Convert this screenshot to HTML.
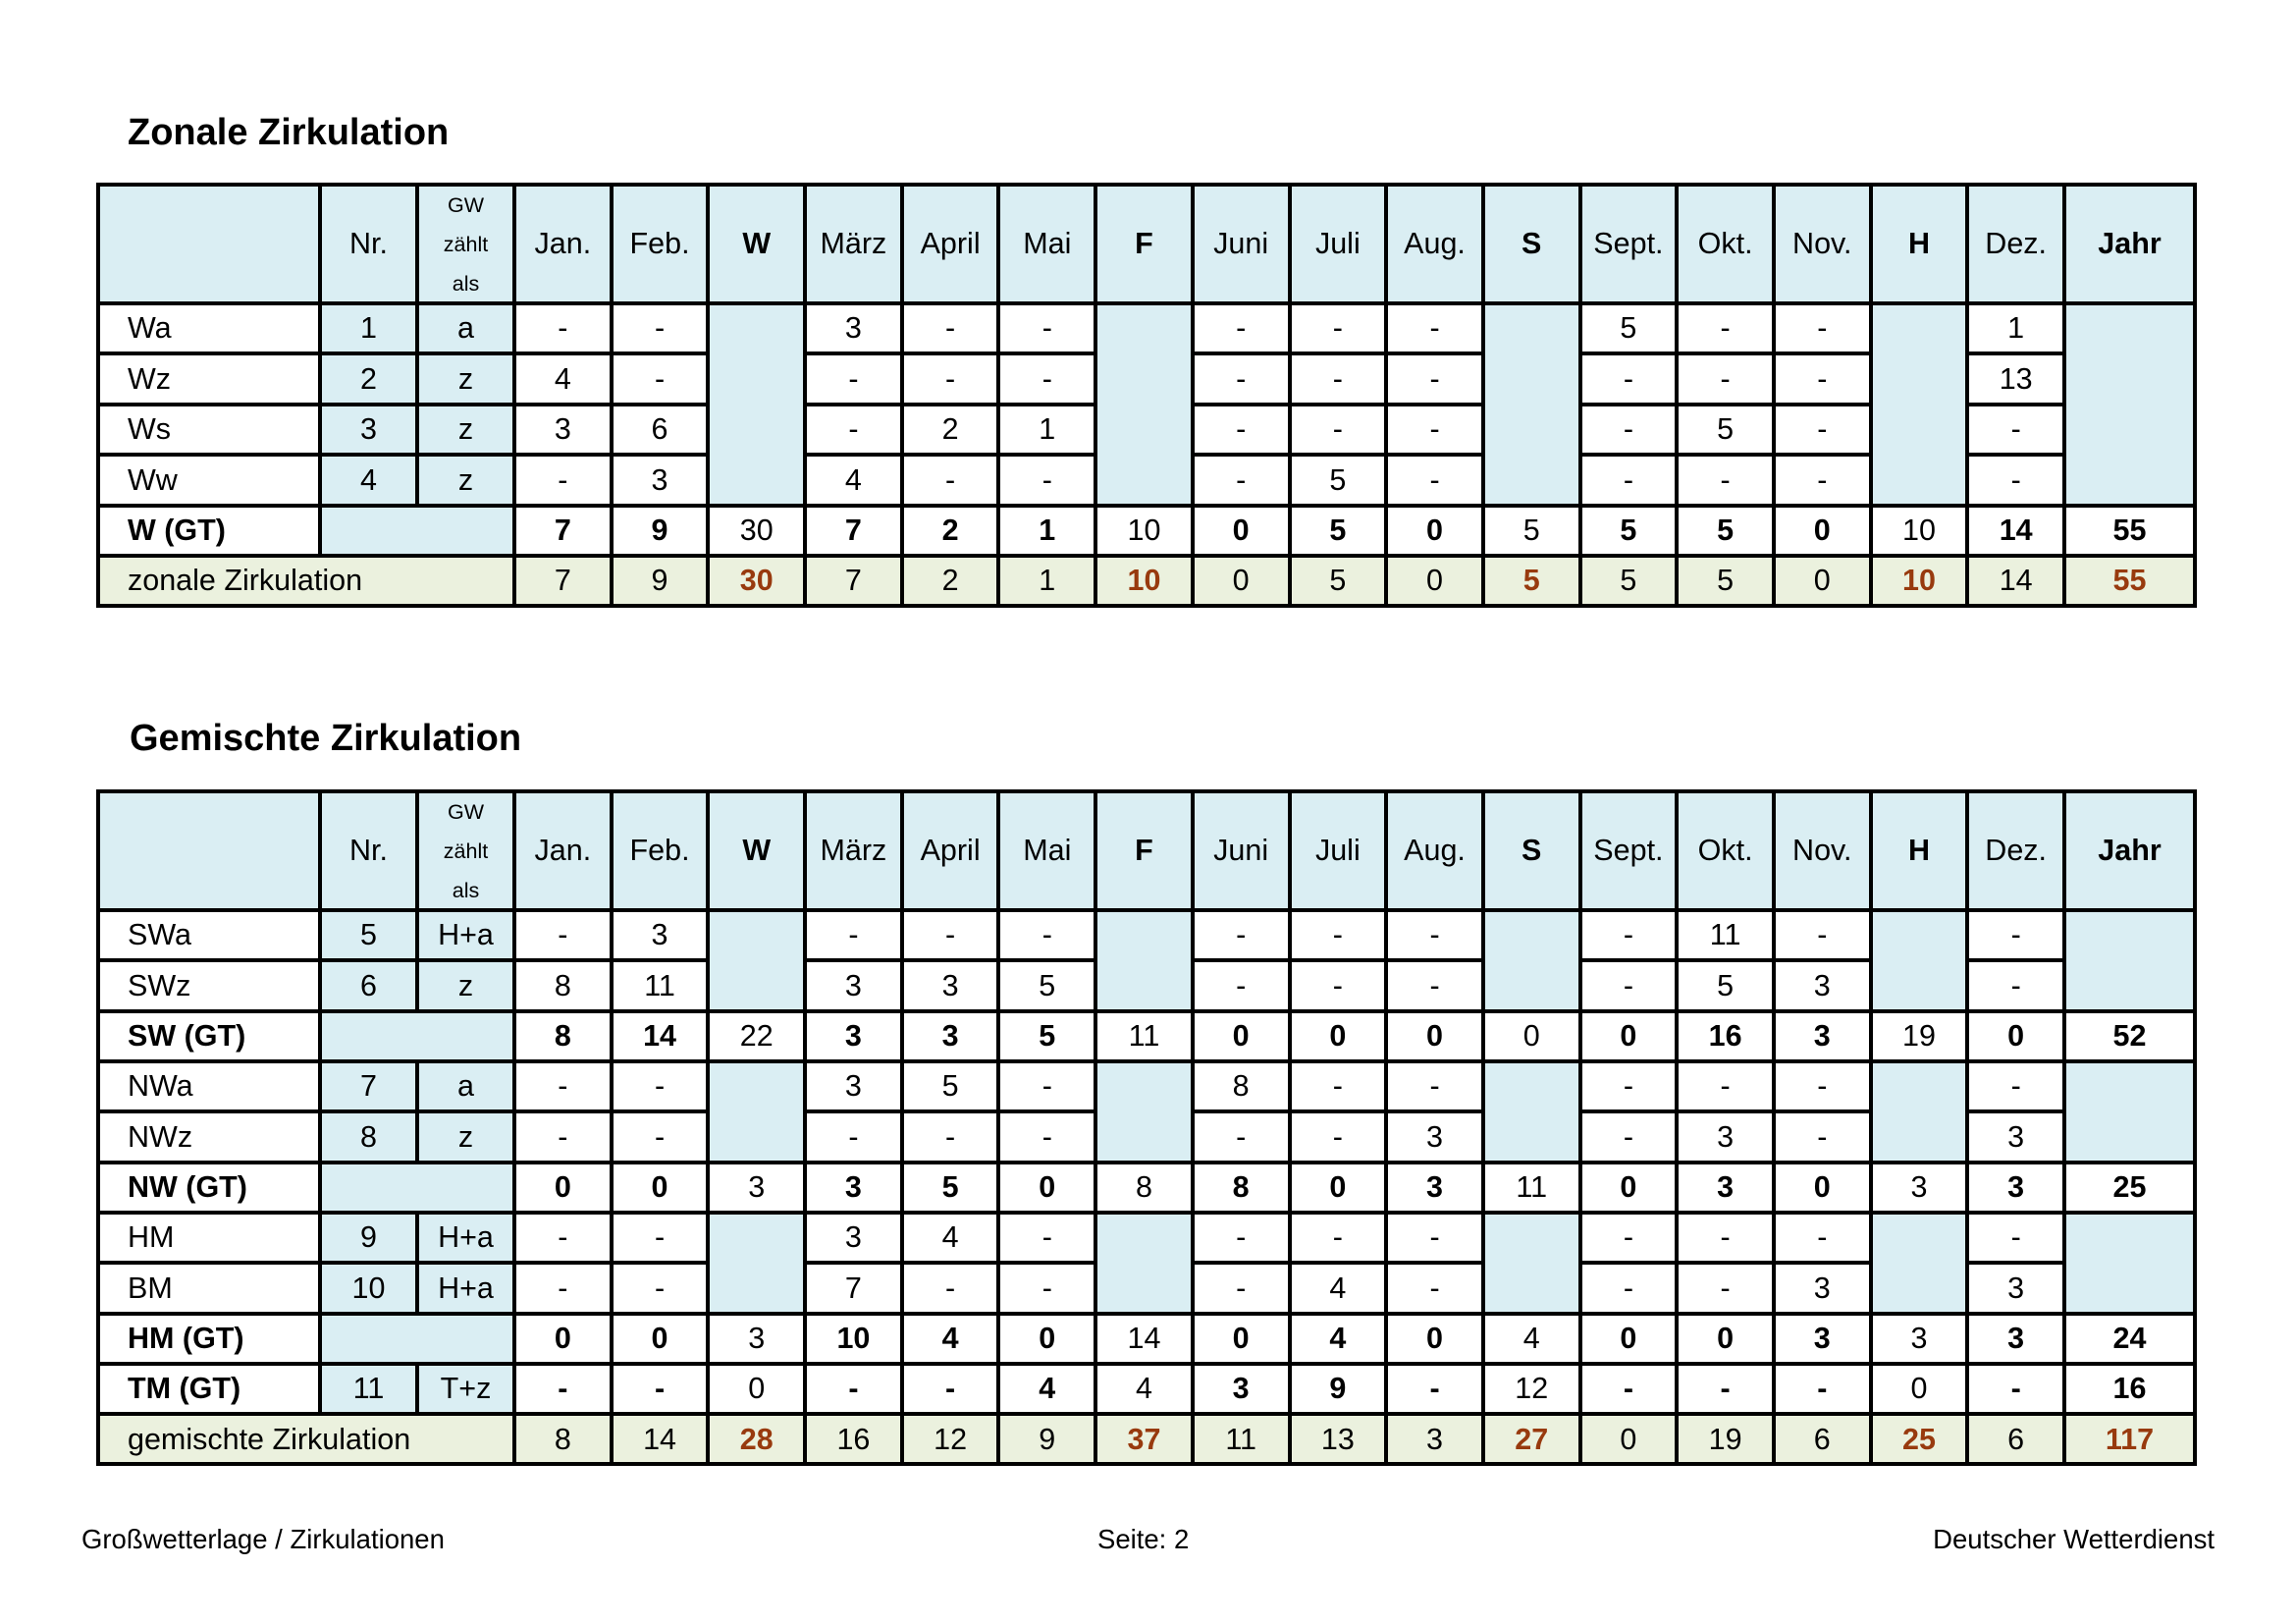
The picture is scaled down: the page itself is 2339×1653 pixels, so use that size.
<!DOCTYPE html>
<html><head><meta charset="utf-8">
<style>
html,body{margin:0;padding:0;background:#fff;}
body{width:2339px;height:1653px;position:relative;overflow:hidden;font-family:"Liberation Sans",Arial,sans-serif;color:#000;}
.title{position:absolute;font-weight:bold;font-size:38px;line-height:38px;white-space:nowrap;}
.foot{position:absolute;top:1554px;font-size:27.5px;line-height:27.5px;white-space:nowrap;}
.tbl{position:absolute;left:98px;display:grid;grid-template-columns:222px 95px 95px repeat(16,94.6875px) 129px;gap:4px;padding:4px;background:#000;}
.t1{top:186px;grid-template-rows:117px repeat(6,47.42px);}
.t2{top:804px;grid-template-rows:117px repeat(11,47.32px);}
.tbl>div{background:#fff;display:flex;align-items:center;justify-content:center;font-size:30.5px;line-height:1;white-space:nowrap;}
.tbl>div.b{background:#DAEEF3;}
.tbl>div.g{background:#EBF1DE;}
.tbl>div.l{justify-content:flex-start;padding-left:28px;}
.bd{font-weight:bold;}
.r{font-weight:bold;color:#983A0E;}
.gw span{display:block;font-size:21.5px;line-height:40px;text-align:center;}
</style></head><body>

<div class="title" style="left:130px;top:116px;">Zonale Zirkulation</div>

<div class="tbl t1">
<div class="b" style="grid-column:6;grid-row:2/6"></div>
<div class="b" style="grid-column:10;grid-row:2/6"></div>
<div class="b" style="grid-column:14;grid-row:2/6"></div>
<div class="b" style="grid-column:18;grid-row:2/6"></div>
<div class="b" style="grid-column:20;grid-row:2/6"></div>

<div class="b"></div><div class="b">Nr.</div><div class="b gw"><span>GW<br>zählt<br>als</span></div><div class="b">Jan.</div><div class="b">Feb.</div><div class="b bd">W</div><div class="b">März</div><div class="b">April</div><div class="b">Mai</div><div class="b bd">F</div><div class="b">Juni</div><div class="b">Juli</div><div class="b">Aug.</div><div class="b bd">S</div><div class="b">Sept.</div><div class="b">Okt.</div><div class="b">Nov.</div><div class="b bd">H</div><div class="b">Dez.</div><div class="b bd">Jahr</div>

<div class="l">Wa</div><div class="b">1</div><div class="b">a</div><div>-</div><div>-</div><div>3</div><div>-</div><div>-</div><div>-</div><div>-</div><div>-</div><div>5</div><div>-</div><div>-</div><div>1</div>

<div class="l">Wz</div><div class="b">2</div><div class="b">z</div><div>4</div><div>-</div><div>-</div><div>-</div><div>-</div><div>-</div><div>-</div><div>-</div><div>-</div><div>-</div><div>-</div><div>13</div>

<div class="l">Ws</div><div class="b">3</div><div class="b">z</div><div>3</div><div>6</div><div>-</div><div>2</div><div>1</div><div>-</div><div>-</div><div>-</div><div>-</div><div>5</div><div>-</div><div>-</div>

<div class="l">Ww</div><div class="b">4</div><div class="b">z</div><div>-</div><div>3</div><div>4</div><div>-</div><div>-</div><div>-</div><div>5</div><div>-</div><div>-</div><div>-</div><div>-</div><div>-</div>

<div class="l bd">W (GT)</div><div class="b" style="grid-column:span 2"></div><div class="bd">7</div><div class="bd">9</div><div>30</div><div class="bd">7</div><div class="bd">2</div><div class="bd">1</div><div>10</div><div class="bd">0</div><div class="bd">5</div><div class="bd">0</div><div>5</div><div class="bd">5</div><div class="bd">5</div><div class="bd">0</div><div>10</div><div class="bd">14</div><div class="bd">55</div>

<div class="g l" style="grid-column:span 3">zonale Zirkulation</div><div class="g">7</div><div class="g">9</div><div class="g r">30</div><div class="g">7</div><div class="g">2</div><div class="g">1</div><div class="g r">10</div><div class="g">0</div><div class="g">5</div><div class="g">0</div><div class="g r">5</div><div class="g">5</div><div class="g">5</div><div class="g">0</div><div class="g r">10</div><div class="g">14</div><div class="g r">55</div>
</div>

<div class="title" style="left:132px;top:733px;">Gemischte Zirkulation</div>

<div class="tbl t2">
<div class="b" style="grid-column:6;grid-row:2/4"></div>
<div class="b" style="grid-column:10;grid-row:2/4"></div>
<div class="b" style="grid-column:14;grid-row:2/4"></div>
<div class="b" style="grid-column:18;grid-row:2/4"></div>
<div class="b" style="grid-column:20;grid-row:2/4"></div>
<div class="b" style="grid-column:6;grid-row:5/7"></div>
<div class="b" style="grid-column:10;grid-row:5/7"></div>
<div class="b" style="grid-column:14;grid-row:5/7"></div>
<div class="b" style="grid-column:18;grid-row:5/7"></div>
<div class="b" style="grid-column:20;grid-row:5/7"></div>
<div class="b" style="grid-column:6;grid-row:8/10"></div>
<div class="b" style="grid-column:10;grid-row:8/10"></div>
<div class="b" style="grid-column:14;grid-row:8/10"></div>
<div class="b" style="grid-column:18;grid-row:8/10"></div>
<div class="b" style="grid-column:20;grid-row:8/10"></div>

<div class="b"></div><div class="b">Nr.</div><div class="b gw"><span>GW<br>zählt<br>als</span></div><div class="b">Jan.</div><div class="b">Feb.</div><div class="b bd">W</div><div class="b">März</div><div class="b">April</div><div class="b">Mai</div><div class="b bd">F</div><div class="b">Juni</div><div class="b">Juli</div><div class="b">Aug.</div><div class="b bd">S</div><div class="b">Sept.</div><div class="b">Okt.</div><div class="b">Nov.</div><div class="b bd">H</div><div class="b">Dez.</div><div class="b bd">Jahr</div>

<div class="l">SWa</div><div class="b">5</div><div class="b">H+a</div><div>-</div><div>3</div><div>-</div><div>-</div><div>-</div><div>-</div><div>-</div><div>-</div><div>-</div><div>11</div><div>-</div><div>-</div>

<div class="l">SWz</div><div class="b">6</div><div class="b">z</div><div>8</div><div>11</div><div>3</div><div>3</div><div>5</div><div>-</div><div>-</div><div>-</div><div>-</div><div>5</div><div>3</div><div>-</div>

<div class="l bd">SW (GT)</div><div class="b" style="grid-column:span 2"></div><div class="bd">8</div><div class="bd">14</div><div>22</div><div class="bd">3</div><div class="bd">3</div><div class="bd">5</div><div>11</div><div class="bd">0</div><div class="bd">0</div><div class="bd">0</div><div>0</div><div class="bd">0</div><div class="bd">16</div><div class="bd">3</div><div>19</div><div class="bd">0</div><div class="bd">52</div>

<div class="l">NWa</div><div class="b">7</div><div class="b">a</div><div>-</div><div>-</div><div>3</div><div>5</div><div>-</div><div>8</div><div>-</div><div>-</div><div>-</div><div>-</div><div>-</div><div>-</div>

<div class="l">NWz</div><div class="b">8</div><div class="b">z</div><div>-</div><div>-</div><div>-</div><div>-</div><div>-</div><div>-</div><div>-</div><div>3</div><div>-</div><div>3</div><div>-</div><div>3</div>

<div class="l bd">NW (GT)</div><div class="b" style="grid-column:span 2"></div><div class="bd">0</div><div class="bd">0</div><div>3</div><div class="bd">3</div><div class="bd">5</div><div class="bd">0</div><div>8</div><div class="bd">8</div><div class="bd">0</div><div class="bd">3</div><div>11</div><div class="bd">0</div><div class="bd">3</div><div class="bd">0</div><div>3</div><div class="bd">3</div><div class="bd">25</div>

<div class="l">HM</div><div class="b">9</div><div class="b">H+a</div><div>-</div><div>-</div><div>3</div><div>4</div><div>-</div><div>-</div><div>-</div><div>-</div><div>-</div><div>-</div><div>-</div><div>-</div>

<div class="l">BM</div><div class="b">10</div><div class="b">H+a</div><div>-</div><div>-</div><div>7</div><div>-</div><div>-</div><div>-</div><div>4</div><div>-</div><div>-</div><div>-</div><div>3</div><div>3</div>

<div class="l bd">HM (GT)</div><div class="b" style="grid-column:span 2"></div><div class="bd">0</div><div class="bd">0</div><div>3</div><div class="bd">10</div><div class="bd">4</div><div class="bd">0</div><div>14</div><div class="bd">0</div><div class="bd">4</div><div class="bd">0</div><div>4</div><div class="bd">0</div><div class="bd">0</div><div class="bd">3</div><div>3</div><div class="bd">3</div><div class="bd">24</div>

<div class="l bd">TM (GT)</div><div class="b">11</div><div class="b">T+z</div><div class="bd">-</div><div class="bd">-</div><div>0</div><div class="bd">-</div><div class="bd">-</div><div class="bd">4</div><div>4</div><div class="bd">3</div><div class="bd">9</div><div class="bd">-</div><div>12</div><div class="bd">-</div><div class="bd">-</div><div class="bd">-</div><div>0</div><div class="bd">-</div><div class="bd">16</div>

<div class="g l" style="grid-column:span 3">gemischte Zirkulation</div><div class="g">8</div><div class="g">14</div><div class="g r">28</div><div class="g">16</div><div class="g">12</div><div class="g">9</div><div class="g r">37</div><div class="g">11</div><div class="g">13</div><div class="g">3</div><div class="g r">27</div><div class="g">0</div><div class="g">19</div><div class="g">6</div><div class="g r">25</div><div class="g">6</div><div class="g r">117</div>
</div>

<div class="foot" style="left:83px;">Großwetterlage / Zirkulationen</div>
<div class="foot" style="left:1118px;">Seite: 2</div>
<div class="foot" style="right:83px;">Deutscher Wetterdienst</div>

</body></html>
